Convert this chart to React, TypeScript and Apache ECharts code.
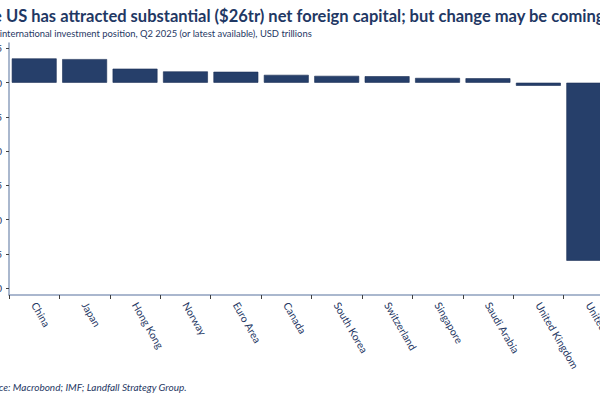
import React, { useEffect, useRef } from "react";
import * as echarts from "echarts";

const categories = [
  "China",
  "Japan",
  "Hong Kong",
  "Norway",
  "Euro Area",
  "Canada",
  "South Korea",
  "Switzerland",
  "Singapore",
  "Saudi Arabia",
  "United Kingdom",
  "United States",
];
const values = [3.55, 3.45, 2.05, 1.65, 1.6, 1.15, 1.0, 0.95, 0.7, 0.65, -0.45, -26.0];
const yTicks = [5, 0, -5, -10, -15, -20, -25, -30];

const titleText =
  "The US has attracted substantial ($26tr) net foreign capital; but change may be coming";
const subtitleText =
  "Net international investment position, Q2 2025 (or latest available), USD trillions";
const sourceText = "Source: Macrobond; IMF; Landfall Strategy Group.";

const NAVY = "#1F3864";
const BAR = "#263F6A";
const OFFSET = 60;
const FONT = "Lato";

export default function App() {
  const ref = useRef<HTMLDivElement>(null);
  useEffect(() => {
    if (!ref.current) return;
    const chart = echarts.init(ref.current, undefined, { renderer: "svg" });
    chart.setOption({
      animation: false,
      backgroundColor: "#ffffff",
      textStyle: { fontFamily: FONT },
      title: [
        {
          text: titleText,
          left: OFFSET - 31,
          top: 2,
          textStyle: { fontFamily: FONT, fontWeight: "bold", fontSize: 16.5, color: NAVY },
        },
        {
          text: subtitleText,
          left: OFFSET - 23,
          top: 24,
          textStyle: { fontFamily: FONT, fontWeight: "normal", fontSize: 9.4, color: NAVY },
        },
        {
          text: sourceText,
          left: OFFSET - 25,
          top: 377,
          textStyle: {
            fontFamily: FONT,
            fontWeight: "normal",
            fontStyle: "italic",
            fontSize: 10,
            color: NAVY,
          },
        },
      ],
      grid: { left: OFFSET + 9, top: 43, width: 605, height: 252, containLabel: false },
      xAxis: {
        type: "category",
        data: categories,
        position: "bottom",
        axisLine: { onZero: false, lineStyle: { color: "#8EA0BE", width: 1.5 } },
        axisTick: { show: true, alignWithLabel: false, length: 4, lineStyle: { color: "#404040" } },
        axisLabel: {
          interval: 0,
          rotate: -60,
          margin: 8,
          fontSize: 10.5,
          color: NAVY,
          fontFamily: FONT,
        },
      },
      yAxis: {
        type: "value",
        min: -31,
        max: 5.8,
        splitLine: { show: false },
        axisLine: { show: true, lineStyle: { color: "#8EA0BE", width: 1.5 } },
        axisTick: {
          show: true,
          length: 3,
          customValues: yTicks,
          lineStyle: { color: "#404040" },
        },
        axisLabel: {
          customValues: yTicks,
          margin: 7,
          fontSize: 10,
          color: NAVY,
          fontFamily: FONT,
        },
      },
      series: [
        {
          type: "bar",
          data: values,
          barCategoryGap: "11%",
          itemStyle: { color: BAR, borderColor: "#1B2F55", borderWidth: 0.6 },
        },
      ],
    });
    return () => chart.dispose();
  }, []);
  return (
    <div
      style={{
        position: "fixed",
        left: 0,
        top: 0,
        width: 600,
        height: 400,
        overflow: "hidden",
        background: "#fff",
      }}
    >
      <div
        ref={ref}
        style={{ position: "absolute", left: -OFFSET, top: 0, width: 720, height: 400 }}
      />
    </div>
  );
}
